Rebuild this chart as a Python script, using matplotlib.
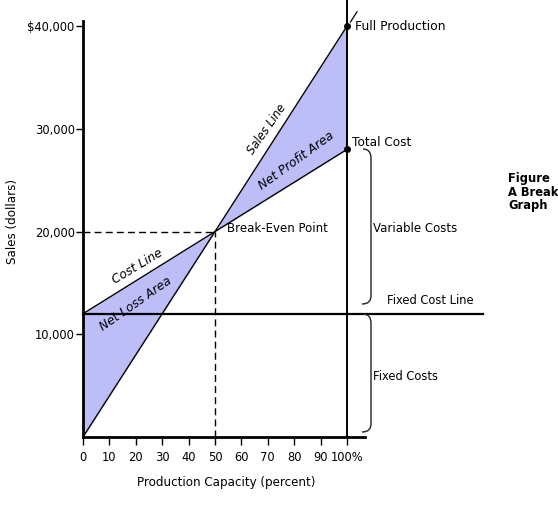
import matplotlib
matplotlib.use("Agg")
import matplotlib.pyplot as plt
from matplotlib.path import Path
from matplotlib.patches import PathPatch
from matplotlib.transforms import IdentityTransform

# ---- data ----
capacity = [0, 100]                 # production capacity (percent)
sales = [0, 40000]                  # sales line
cost = [12000, 28000]               # total cost line
fixed_cost = 12000
break_even_x = 50
break_even_y = 20000
x_ticks = [0, 10, 20, 30, 40, 50, 60, 70, 80, 90, 100]
x_tick_labels = ["0", "10", "20", "30", "40", "50", "60", "70", "80", "90", "100%"]
y_ticks = [10000, 20000, 30000, 40000]
y_tick_labels = ["10,000", "20,000", "30,000", "$40,000"]

W, H = 558, 512
fig = plt.figure(figsize=(W / 100, H / 100), dpi=100)
ax = fig.add_axes([83 / W, (H - 437) / H, 282 / W, (437 - 21) / H])
ax.set_xlim(0, 282 / 2.64)
ax.set_ylim(0, 40500)

FS = 8.3
fill_col = "#bdbdf8"

ax.fill_between(capacity, sales, cost, color=fill_col, lw=0, zorder=1)
ax.plot(capacity, sales, color="black", lw=1.0, zorder=3)
ax.plot(capacity, cost, color="black", lw=1.0, zorder=3)
# small continuation of sales line beyond full production
ax.plot([101.3, 103.8], [40400, 41400], color="black", lw=0.9, clip_on=False)

# vertical line at full production
ax.plot([100, 100], [0, 42600], color="black", lw=1.4, clip_on=False, zorder=4)
# fixed cost line
ax.plot([0, 151.5], [fixed_cost, fixed_cost], color="black", lw=1.6, clip_on=False, zorder=4)

# break-even dashed guides
ax.plot([0, break_even_x], [break_even_y, break_even_y], color="black", lw=1.0,
        ls=(0, (5, 3)), zorder=2)
ax.plot([break_even_x, break_even_x], [0, break_even_y], color="black", lw=1.0,
        ls=(0, (5, 3)), zorder=2)

# dots
ax.plot([100, 100], [sales[1], cost[1]], "o", color="black", ms=4, zorder=5, clip_on=False)

# spines
for s in ["top", "right"]:
    ax.spines[s].set_visible(False)
ax.spines["left"].set_linewidth(2.0)
ax.spines["bottom"].set_linewidth(2.0)

ax.set_xticks(x_ticks)
ax.set_xticklabels(x_tick_labels, fontsize=FS)
ax.set_yticks(y_ticks)
ax.set_yticklabels(y_tick_labels, fontsize=FS)
ax.tick_params(axis="x", length=6, width=1.0, pad=4)
ax.tick_params(axis="y", length=5, width=1.0, pad=1)

ax.set_xlabel("Production Capacity (percent)", fontsize=FS + 0.3)
ax.xaxis.set_label_coords((226 - 83) / 282, -0.093)
ax.set_ylabel("Sales (dollars)", fontsize=FS + 0.3)
ax.yaxis.set_label_coords(-(83 - 19) / 282, (437 - 221) / 416)

ID = IdentityTransform()


def ptext(px, py, s, fs=FS, **kw):
    fig.text(px, H - py, s, transform=ID, fontsize=fs, **kw)


ptext(355, 26, "Full Production", fs=FS + 0.6, va="center", ha="left")
ptext(352, 142, "Total Cost", fs=FS + 0.4, va="center", ha="left")
ptext(227, 228, "Break-Even Point", fs=FS + 0.2, va="center", ha="left")
ptext(373, 229, "Variable Costs", fs=FS + 0.2, va="center", ha="left")
ptext(387, 300, "Fixed Cost Line", va="center", ha="left")
ptext(373, 376, "Fixed Costs", va="center", ha="left")

# rotated italic labels
ptext(267, 129, "Sales Line", rotation=55, style="italic", ha="center", va="center",
      rotation_mode="anchor")
ptext(296, 161, "Net Profit Area", fs=FS + 0.5, rotation=36, style="italic",
      ha="center", va="center", rotation_mode="anchor")
ptext(137, 266, "Cost Line", fs=FS + 0.5, rotation=31, style="italic",
      ha="center", va="center", rotation_mode="anchor")
ptext(136, 304, "Net Loss Area", fs=FS + 0.5, rotation=35, style="italic",
      ha="center", va="center", rotation_mode="anchor")

# figure caption (clipped at right edge)
ptext(508, 172, "Figure\nA Break\nGraph", fontweight="bold", ha="left", va="top",
      linespacing=1.05)


def brace(top, bot, xl=363, xr=371):
    verts = [(xl, H - top), (xr, H - top), (xr, H - top - 9),
             (xr, H - bot + 8), (xr, H - bot), (xl - 1, H - bot)]
    codes = [Path.MOVETO, Path.CURVE3, Path.CURVE3, Path.LINETO, Path.CURVE3, Path.CURVE3]
    fig.add_artist(PathPatch(Path(verts, codes), transform=ID, fill=False,
                             lw=1.0, color="#222222"))


brace(149, 304)
brace(314, 432)

fig.savefig("out.png", dpi=100)
